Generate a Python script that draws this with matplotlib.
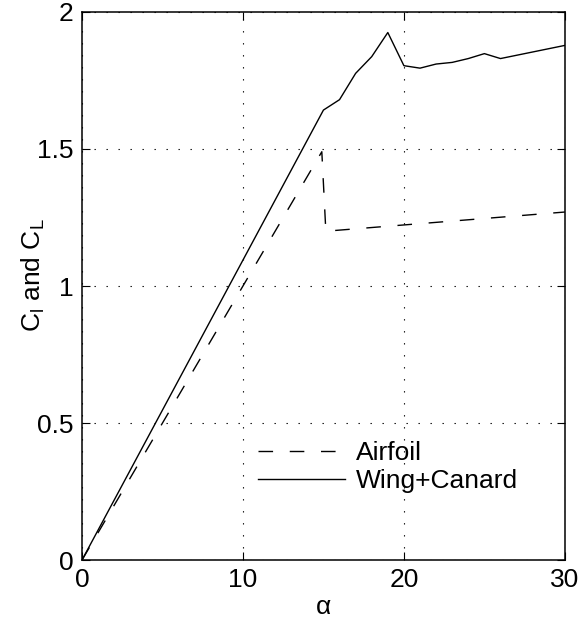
import matplotlib.pyplot as plt

plt.rcParams['font.family'] = ['Liberation Sans', 'DejaVu Sans']
plt.rcParams['mathtext.fontset'] = 'custom'
plt.rcParams['mathtext.rm'] = 'Liberation Sans'

# airfoil section lift
airfoil_alpha = [0, 14.9, 15.15, 30]
airfoil_cl = [0, 1.49, 1.2, 1.27]

# wing + canard lift
wing_alpha = [0, 15, 16, 17, 18, 19, 20, 21, 22, 23, 24, 25, 26, 30]
wing_cl = [0, 1.642, 1.68, 1.776, 1.837, 1.925, 1.804, 1.795, 1.81, 1.816,
           1.83, 1.848, 1.83, 1.878]

fs = 19

fig = plt.figure(figsize=(5.79, 6.30), dpi=100)
ax = fig.add_axes([0.1416, 0.111, 0.834, 0.870])

ax.plot(airfoil_alpha, airfoil_cl, 'k--', lw=1.0, dashes=(10.5, 12), label='Airfoil')
ax.plot(wing_alpha, wing_cl, 'k-', lw=1.0, label='Wing+Canard')

ax.set_xlim(0, 30)
ax.set_ylim(0, 2)
ax.set_xticks([0, 10, 20, 30])
ax.set_yticks([0, 0.5, 1, 1.5, 2])
ax.set_yticklabels(['0', '0.5', '1', '1.5', '2'])
ax.tick_params(direction='in', top=True, right=True, labelsize=fs, length=6, pad=6)
ax.grid(True, color='k', linestyle=(0, (1.2, 9.6)), linewidth=0.8)
for s in ax.spines.values():
    s.set_linewidth(1.1)

ax.set_xlabel('\u03b1', fontsize=fs, labelpad=2)
ax.set_ylabel(r'C$_\mathregular{l}$ and C$_\mathregular{L}$', fontsize=fs)
ax.yaxis.set_label_coords(-0.072, 0.52)

ax.legend(loc='upper left', bbox_to_anchor=(0.364, 0.217), frameon=False,
          fontsize=fs, handlelength=3.3, handletextpad=0.42, labelspacing=0.15,
          borderpad=0, borderaxespad=0)

fig.savefig('out.png', dpi=100)
